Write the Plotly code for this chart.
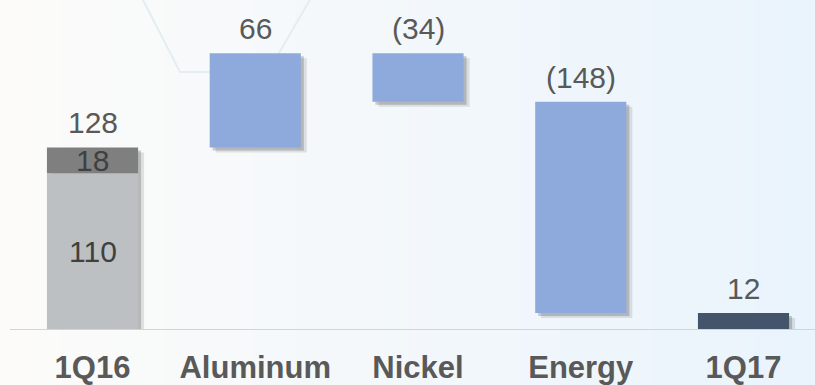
import plotly.graph_objects as go

# ---- data ----
categories = ["1Q16", "Aluminum", "Nickel", "Energy", "1Q17"]
start_parts = [110, 18]            # 1Q16 stacked components
changes = [66, -34, -148]          # Aluminum, Nickel, Energy
end_value = 12                     # 1Q17
change_labels = ["66", "(34)", "(148)"]

# ---- styling ----
C_LIGHT = "#BDC0C3"
C_DARK = "#7F7F7F"
C_BLUE = "#8EAADC"
C_NAVY = "#44546A"
TXT = "#595959"
FONT = "Arial, Liberation Sans, sans-serif"
W, H = 815, 385
MB = 55
HP = H - MB
BAR_W = 0.56

start_total = sum(start_parts)
levels = [start_total]
for c in changes:
    levels.append(levels[-1] + c)
chg_base = [min(levels[i], levels[i + 1]) for i in range(len(changes))]
chg_len = [abs(c) for c in changes]
chg_top = [max(levels[i], levels[i + 1]) for i in range(len(changes))]

xr = [-0.5684, 4.4393]
yr = [0, 231.4]
px_x = (xr[1] - xr[0]) / W
px_y = (yr[1] - yr[0]) / HP

fig = go.Figure()

def bars(xaxis, yaxis, shadow=None):
    col = (lambda c: shadow) if shadow else (lambda c: c)
    common = dict(width=BAR_W, xaxis=xaxis, yaxis=yaxis, hoverinfo="skip" if shadow else None,
                  showlegend=False, marker_line_width=0)
    fig.add_trace(go.Bar(x=[categories[0]], y=[start_parts[0]], base=[0],
                         marker_color=col(C_LIGHT), **common))
    fig.add_trace(go.Bar(x=[categories[0]], y=[start_parts[1]], base=[start_parts[0]],
                         marker_color=col(C_DARK), **common))
    fig.add_trace(go.Bar(x=categories[1:4], y=chg_len, base=chg_base,
                         marker_color=col(C_BLUE), **common))
    fig.add_trace(go.Bar(x=[categories[4]], y=[end_value], base=[0],
                         marker_color=col(C_NAVY), **common))

# soft shadow: outer layer (primary axes), inner layer (x2/y2), real bars (x3/y3)
bars("x", "y", shadow="rgba(40,40,40,0.12)")
bars("x2", "y2", shadow="rgba(40,40,40,0.22)")
bars("x3", "y3")

# ---- background gradient + decorative hexagon ----
shapes = []
N = 80
c0 = (252, 251, 250)
c1 = (234, 244, 252)
for i in range(N):
    t = i / (N - 1)
    r = round(c0[0] + (c1[0] - c0[0]) * t)
    g = round(c0[1] + (c1[1] - c0[1]) * t)
    b = round(c0[2] + (c1[2] - c0[2]) * t)
    shapes.append(dict(type="rect", xref="paper", yref="paper", x0=i / N, x1=(i + 1) / N + 0.002,
                       y0=-MB / HP - 0.02, y1=1.02, fillcolor=f"rgb({r},{g},{b})",
                       line_width=0, layer="below"))

def pp(x, y):
    return f"{x / W:.4f},{1 - y / HP:.4f}"

shapes.append(dict(type="path", xref="paper", yref="paper",
                   path=f"M {pp(142, -2)} L {pp(180, 72)} L {pp(268, 72)} L {pp(311, -2)}",
                   line=dict(color="#E4EDF1", width=2), layer="below"))
shapes.append(dict(type="line", xref="paper", yref="y3", x0=10 / W, x1=1, y0=0, y1=0,
                   line=dict(color="#D4D4D4", width=2), layer="above"))

# ---- annotations ----
ann = []
lab_font = dict(family=FONT, size=30, color=TXT)
top_labels = [(categories[0], start_total, str(start_total))]
for cat, top, lab in zip(categories[1:4], chg_top, change_labels):
    top_labels.append((cat, top, lab))
top_labels.append((categories[4], end_value, str(end_value)))
for cat, top, lab in top_labels:
    ann.append(dict(x=cat, y=top, xref="x3", yref="y3", text=lab, showarrow=False,
                    yanchor="bottom", yshift=6, font=lab_font))
ann.append(dict(x=categories[0], y=start_parts[0] / 2, xref="x3", yref="y3",
                text=str(start_parts[0]), showarrow=False, yanchor="middle",
                font=dict(family=FONT, size=30, color="#404040")))
ann.append(dict(x=categories[0], y=start_parts[0] + start_parts[1] / 2, xref="x3", yref="y3",
                text=str(start_parts[1]), showarrow=False, yanchor="middle",
                font=dict(family=FONT, size=30, color="#404040")))

def xax(shift_px, **kw):
    return dict(type="category", categoryorder="array", categoryarray=categories,
                range=[xr[0] - shift_px * px_x, xr[1] - shift_px * px_x], fixedrange=True, **kw)

def yax(shift_px, **kw):
    return dict(range=[yr[0] + shift_px * px_y, yr[1] + shift_px * px_y], fixedrange=True,
                showgrid=False, visible=False, **kw)

fig.update_layout(
    width=W, height=H,
    margin=dict(l=0, r=0, t=0, b=MB),
    paper_bgcolor="rgba(0,0,0,0)", plot_bgcolor="rgba(0,0,0,0)",
    barmode="overlay",
    shapes=shapes, annotations=ann,
    xaxis=xax(6, visible=False),
    yaxis=yax(5),
    xaxis2=xax(3, visible=False, overlaying="x"),
    yaxis2=yax(3, overlaying="y"),
    xaxis3=xax(0, overlaying="x", side="bottom", showgrid=False, zeroline=False,
               showline=False, ticks="", ticklabelstandoff=16,
               tickfont=dict(family=FONT, size=31, color=TXT, weight="bold")),
    yaxis3=yax(0, overlaying="y"),
)

fig.write_html("out.html", config={"displayModeBar": False},
               post_script="document.body.style.margin='0';document.body.style.overflow='hidden';")
